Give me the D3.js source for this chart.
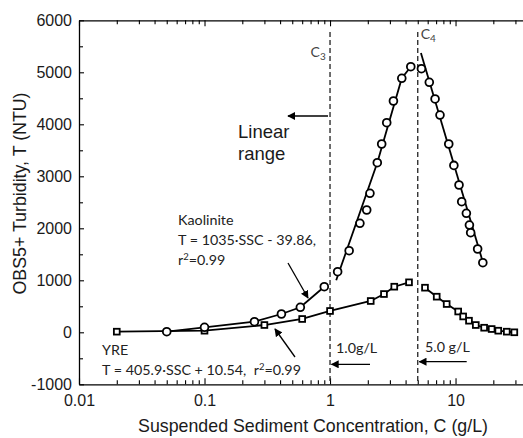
<!DOCTYPE html>
<html><head><meta charset="utf-8">
<script src="https://cdn.jsdelivr.net/npm/d3@7"></script>
<style>
body{margin:0;background:#fff;}
svg{display:block;}
</style></head>
<body><svg id="c" width="523" height="438"></svg>
<script>
// ---- data ----
const kaoC = [0.05,0.1,0.25,0.41,0.58,0.9,1.15,1.42,1.73,1.96,2.08,2.38,2.58,2.83,3.2,3.73,4.4,5.35,6.18,6.87,7.52,8.83,9.7,10.66,11.2,12.2,12.9,13.2,15.0,16.5];
const kaoT = [12,96,204,352,481,877,1165,1569,2096,2352,2673,3262,3621,4031,4448,4885,5108,5069,4808,4487,4178,3621,3210,2833,2512,2288,2063,1915,1602,1338];
const yreC = [0.02,0.1,0.3,0.6,1.0,2.11,2.69,3.25,4.26,5.71,7.08,8.5,10.5,11.5,12.8,14.5,16.9,19.4,21.9,25.6,29.4];
const yreT = [12,31,140,256,410,602,736,877,961,858,685,544,400,305,223,140,88,63,31,12,0];
// fitted line pieces
const kaoLowC = [0.05,0.1,0.25,0.41,0.58,0.9];
const kaoLowT = [12,96,204,352,481,877];
const kaoRiseC = [1.12,2.38,3.73,4.4];
const kaoRiseT = [1000,3262,4885,5108];
const kaoFallC = [5.3,16.6];
const kaoFallT = [5370,1330];
const yreRiseN = 9; // first 9 YRE points form the rising line, rest the falling line
const xMajor = [0.01,0.1,1,10];
const xMajorLabels = ["0.01","0.1","1","10"];
const yMajor = [-1000,0,1000,2000,3000,4000,5000,6000];
const yMajorLabels = ["-1000","0","1000","2000","3000","4000","5000","6000"];
const cLimits = [1,5];
const cLimitNames = ["3","4"];

// ---- scales ----
const svg = d3.select("#c");
const x = d3.scaleLog().domain([0.01,40]).range([79,531.1]);
const y = d3.scaleLinear().domain([-1000,6000]).range([384.3,20.3]);
const xMinor = [];
[0.01,0.1,1,10].forEach(d=>{for(let k=2;k<=9;k++){xMinor.push(d*k);}});
const yMinor = d3.range(-500,6000,1000);

const tickFont = "'Liberation Sans', Arial, sans-serif";
const annFont = "Lato, 'Noto Sans', sans-serif";

function styleAxis(g){
  g.selectAll("path.domain").attr("stroke","#000").attr("stroke-width",1.3);
  g.selectAll(".tick line").attr("stroke","#000").attr("stroke-width",1.1);
  g.selectAll("text").attr("font-family",tickFont).attr("font-size",16).attr("fill","#1a1a1a");
}
// bottom
const gb = svg.append("g").attr("transform",`translate(0,${y(-1000)})`)
  .call(d3.axisBottom(x).tickValues(xMajor).tickFormat((d,i)=>xMajorLabels[i]).tickSizeInner(-6).tickSizeOuter(0).tickPadding(10));
styleAxis(gb);
const gbm = svg.append("g").attr("transform",`translate(0,${y(-1000)})`)
  .call(d3.axisBottom(x).tickValues(xMinor).tickFormat("").tickSizeInner(-4).tickSizeOuter(0));
styleAxis(gbm); gbm.select("path.domain").remove();
// top
const gt = svg.append("g").attr("transform",`translate(0,${y(6000)})`)
  .call(d3.axisTop(x).tickValues(xMajor).tickFormat("").tickSizeInner(-6).tickSizeOuter(0));
styleAxis(gt);
const gtm = svg.append("g").attr("transform",`translate(0,${y(6000)})`)
  .call(d3.axisTop(x).tickValues(xMinor).tickFormat("").tickSizeInner(-4).tickSizeOuter(0));
styleAxis(gtm); gtm.select("path.domain").remove();
// left
const gl = svg.append("g").attr("transform",`translate(${x(0.01)},0)`)
  .call(d3.axisLeft(y).tickValues(yMajor).tickFormat((d,i)=>yMajorLabels[i]).tickSizeInner(-5).tickSizeOuter(0).tickPadding(7));
styleAxis(gl);
const glm = svg.append("g").attr("transform",`translate(${x(0.01)},0)`)
  .call(d3.axisLeft(y).tickValues(yMinor).tickFormat("").tickSizeInner(-4).tickSizeOuter(0));
styleAxis(glm); glm.select("path.domain").remove();

// axis titles
svg.append("text").attr("x",313).attr("y",432).attr("text-anchor","middle")
  .attr("font-family",tickFont).attr("font-size",17.8).attr("fill","#1a1a1a")
  .text("Suspended Sediment Concentration, C (g/L)");
svg.append("text").attr("transform","translate(26,193.5) rotate(-90)").attr("text-anchor","middle")
  .attr("font-family",tickFont).attr("font-size",17.8).attr("fill","#1a1a1a")
  .text("OBS5+ Turbidity, T (NTU)");

// dashed limits
svg.selectAll("line.lim").data(cLimits).enter().append("line")
  .attr("x1",d=>x(d)).attr("x2",d=>x(d)).attr("y1",32).attr("y2",y(-1000))
  .attr("stroke","#222").attr("stroke-width",1.3).attr("stroke-dasharray","5,3");
const cl = svg.selectAll("text.cl").data(cLimits).enter().append("text")
  .attr("x",(d,i)=> i===0 ? x(d)-19.5 : x(d)+3)
  .attr("y",(d,i)=> i===0 ? 57 : 39)
  .attr("font-family",annFont).attr("font-size",14).attr("fill","#444");
cl.append("tspan").text("C");
cl.append("tspan").attr("font-size",10).attr("baseline-shift","-3").text((d,i)=>cLimitNames[i]);

// lines
const line = d3.line().x(d=>x(d[0])).y(d=>y(d[1]));
const zip=(a,b)=>a.map((v,i)=>[v,b[i]]);
const lineSets = [
  zip(kaoLowC,kaoLowT),
  zip(kaoRiseC,kaoRiseT),
  zip(kaoFallC,kaoFallT),
  zip(yreC.slice(0,yreRiseN),yreT.slice(0,yreRiseN)),
  zip(yreC.slice(yreRiseN),yreT.slice(yreRiseN))
];
svg.selectAll("path.fit").data(lineSets).enter().append("path")
  .attr("d",line).attr("fill","none").attr("stroke","#000").attr("stroke-width",1.8);

// markers
svg.selectAll("rect.yre").data(zip(yreC,yreT)).enter().append("rect")
  .attr("x",d=>x(d[0])-2.9).attr("y",d=>y(d[1])-2.9).attr("width",5.8).attr("height",5.8)
  .attr("fill","#fff").attr("stroke","#000").attr("stroke-width",1.8);
svg.selectAll("circle.kao").data(zip(kaoC,kaoT)).enter().append("circle")
  .attr("cx",d=>x(d[0])).attr("cy",d=>y(d[1])).attr("r",3.9)
  .attr("fill","#fff").attr("stroke","#000").attr("stroke-width",1.8);

// arrows
const defs = svg.append("defs");
defs.append("marker").attr("id","ah").attr("viewBox","0 0 10 10").attr("refX",9).attr("refY",5)
  .attr("markerWidth",8).attr("markerHeight",8).attr("markerUnits","userSpaceOnUse").attr("orient","auto")
  .append("path").attr("d","M0,0 L10,5 L0,10 Z").attr("fill","#000");
const arrows = [
  [328,116,288,116],
  [288,263,308,298],
  [295,357,275,329],
  [370,364.3,331.5,364.3],
  [466.7,361.7,419.3,361.7]
];
svg.selectAll("line.arr").data(arrows).enter().append("line")
  .attr("x1",d=>d[0]).attr("y1",d=>d[1]).attr("x2",d=>d[2]).attr("y2",d=>d[3])
  .attr("stroke","#000").attr("stroke-width",1.3).attr("marker-end","url(#ah)");

// annotations
svg.append("text").attr("x",238).attr("y",138).attr("font-family",tickFont).attr("font-size",18.5).attr("fill","#1a1a1a").text("Linear");
svg.append("text").attr("x",238).attr("y",160).attr("font-family",tickFont).attr("font-size",18.5).attr("fill","#1a1a1a").text("range");

function ann(xp,yp,parts){
  const t = svg.append("text").attr("x",xp).attr("y",yp).attr("font-family",annFont).attr("font-size",14.3).attr("fill","#222");
  parts.forEach(p=>{
    if(typeof p==="string") t.append("tspan").text(p);
    else t.append("tspan").attr("font-size",9.5).attr("baseline-shift","5").text(p.t);
  });
}
ann(178,224.5,["Kaolinite"]);
ann(178,244.5,["T = 1035·SSC - 39.86,"]);
ann(178,265,["r",{t:"2"},"=0.99"]);
ann(102,355,["YRE"]);
ann(102,375,["T = 405.9·SSC + 10.54,\u00a0\u00a0r",{t:"2"},"=0.99"]);
ann(336,353,["1.0g/L"]);
ann(425,352,["5.0 g/L"]);
</script></body></html>
